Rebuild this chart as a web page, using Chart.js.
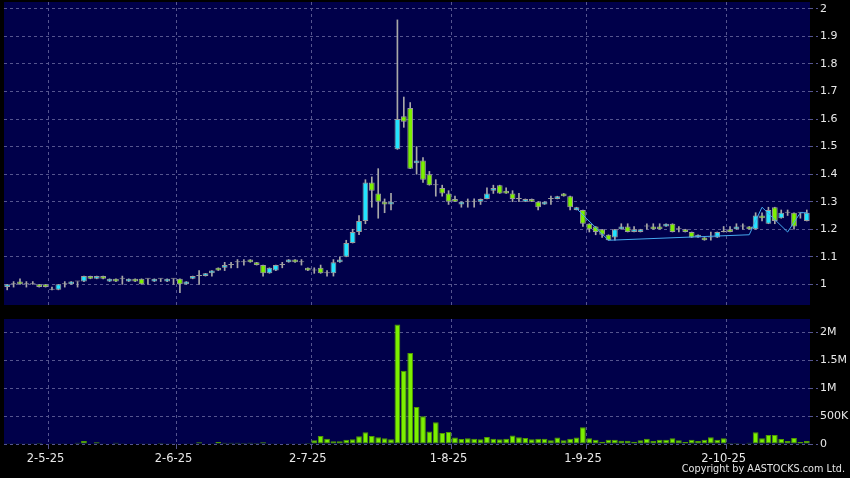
<!DOCTYPE html>
<html><head><meta charset="utf-8">
<script src="https://cdn.jsdelivr.net/npm/chart.js@4.4.1/dist/chart.umd.min.js"></script>
<style>
html,body{margin:0;padding:0;background:#000;width:850px;height:478px;overflow:hidden;}
#c1{position:absolute;left:0;top:0;}
#c2{position:absolute;left:0;top:310px;}
#copy{position:absolute;right:5px;top:463px;color:#e6e6e6;font:9.7px "DejaVu Sans";white-space:nowrap;}
</style></head><body>
<canvas id="c1" width="850" height="305"></canvas>
<canvas id="c2" width="850" height="168"></canvas>
<div id="copy">Copyright by AASTOCKS.com Ltd.</div>
<script>
const dates = [
'23-4-25','24-4-25','25-4-25','28-4-25','29-4-25','30-4-25',
'2-5-25','6-5-25','7-5-25','8-5-25','9-5-25','12-5-25','13-5-25','14-5-25','15-5-25','16-5-25','19-5-25','20-5-25','21-5-25','22-5-25','23-5-25','26-5-25','27-5-25','28-5-25','29-5-25','30-5-25',
'2-6-25','3-6-25','4-6-25','5-6-25','6-6-25','9-6-25','10-6-25','11-6-25','12-6-25','13-6-25','16-6-25','17-6-25','18-6-25','19-6-25','20-6-25','23-6-25','24-6-25','25-6-25','26-6-25','27-6-25','30-6-25',
'2-7-25','3-7-25','4-7-25','7-7-25','8-7-25','9-7-25','10-7-25','11-7-25','14-7-25','15-7-25','16-7-25','17-7-25','18-7-25','21-7-25','22-7-25','23-7-25','24-7-25','25-7-25','28-7-25','29-7-25','30-7-25','31-7-25',
'1-8-25','4-8-25','5-8-25','6-8-25','7-8-25','8-8-25','11-8-25','12-8-25','13-8-25','14-8-25','15-8-25','18-8-25','19-8-25','20-8-25','21-8-25','22-8-25','25-8-25','26-8-25','27-8-25','28-8-25','29-8-25',
'1-9-25','2-9-25','3-9-25','4-9-25','5-9-25','8-9-25','9-9-25','10-9-25','11-9-25','12-9-25','15-9-25','16-9-25','17-9-25','18-9-25','19-9-25','22-9-25','23-9-25','24-9-25','25-9-25','26-9-25','29-9-25','30-9-25',
'2-10-25','3-10-25','6-10-25','8-10-25','9-10-25','10-10-25','13-10-25','14-10-25','15-10-25','16-10-25','17-10-25','20-10-25','21-10-25','22-10-25'
];
const tickDates = ['2-5-25','2-6-25','2-7-25','1-8-25','1-9-25','2-10-25'];

const openP = [
0.99,1.00,1.01,1.00,1.00,1.00,1.00,0.98,0.98,1.00,
1.00,1.01,1.01,1.03,1.02,1.03,1.01,1.02,1.02,1.01,
1.02,1.02,1.02,1.01,1.02,1.01,1.02,1.02,1.00,1.02,
1.03,1.03,1.04,1.06,1.06,1.07,1.08,1.08,1.09,1.08,
1.07,1.04,1.05,1.07,1.08,1.09,1.08,1.06,1.05,1.06,
1.04,1.04,1.08,1.10,1.15,1.19,1.23,1.37,1.33,1.30,
1.29,1.49,1.61,1.64,1.44,1.45,1.40,1.36,1.35,1.33,
1.31,1.29,1.30,1.30,1.30,1.31,1.34,1.36,1.34,1.33,
1.31,1.30,1.31,1.30,1.29,1.31,1.31,1.33,1.32,1.27,
1.27,1.22,1.21,1.20,1.18,1.17,1.20,1.21,1.19,1.19,
1.21,1.21,1.21,1.21,1.22,1.20,1.20,1.19,1.17,1.17,
1.17,1.17,1.19,1.20,1.20,1.21,1.21,1.20,1.25,1.22,
1.28,1.24,1.26,1.26,1.26,1.23];
const highP = [
1.00,1.01,1.02,1.01,1.01,1.00,1.00,0.99,1.00,1.01,
1.01,1.01,1.03,1.03,1.03,1.03,1.02,1.02,1.03,1.02,
1.02,1.02,1.02,1.02,1.02,1.02,1.02,1.02,1.01,1.03,
1.05,1.04,1.05,1.06,1.08,1.08,1.09,1.09,1.09,1.08,
1.07,1.06,1.07,1.08,1.09,1.09,1.09,1.06,1.06,1.07,
1.05,1.09,1.10,1.16,1.20,1.25,1.38,1.39,1.42,1.31,
1.33,1.96,1.68,1.66,1.50,1.46,1.41,1.38,1.36,1.34,
1.32,1.30,1.31,1.31,1.31,1.35,1.36,1.36,1.35,1.34,
1.33,1.31,1.31,1.30,1.30,1.32,1.32,1.33,1.32,1.28,
1.27,1.22,1.21,1.20,1.18,1.20,1.22,1.22,1.21,1.20,
1.22,1.22,1.22,1.22,1.22,1.21,1.20,1.19,1.18,1.17,
1.19,1.19,1.21,1.21,1.22,1.22,1.21,1.26,1.26,1.28,
1.28,1.27,1.27,1.26,1.26,1.27];
const lowP = [
0.98,0.99,1.00,0.99,1.00,0.99,0.99,0.98,0.98,0.99,
1.00,0.99,1.01,1.02,1.02,1.02,1.01,1.01,1.00,1.01,
1.01,1.00,1.00,1.01,1.01,1.01,1.00,0.97,1.00,1.02,
1.00,1.03,1.03,1.05,1.05,1.06,1.06,1.07,1.08,1.07,
1.03,1.04,1.05,1.06,1.08,1.08,1.07,1.05,1.04,1.04,
1.03,1.03,1.08,1.10,1.15,1.18,1.22,1.28,1.24,1.26,
1.27,1.49,1.57,1.42,1.40,1.37,1.36,1.32,1.32,1.29,
1.30,1.28,1.28,1.28,1.29,1.31,1.33,1.33,1.33,1.30,
1.30,1.30,1.30,1.27,1.29,1.29,1.31,1.32,1.27,1.27,
1.21,1.19,1.18,1.17,1.16,1.16,1.20,1.19,1.19,1.19,
1.20,1.20,1.20,1.21,1.19,1.19,1.19,1.17,1.17,1.16,
1.16,1.17,1.19,1.19,1.20,1.20,1.20,1.20,1.23,1.22,
1.22,1.24,1.25,1.20,1.24,1.23];
const closeP = [
1.00,1.00,1.00,1.00,1.00,0.99,0.99,0.98,1.00,1.00,
1.01,1.01,1.03,1.02,1.03,1.02,1.02,1.01,1.02,1.02,
1.01,1.00,1.02,1.02,1.02,1.02,1.02,1.00,1.01,1.03,
1.03,1.04,1.05,1.05,1.07,1.07,1.08,1.08,1.08,1.07,
1.04,1.06,1.07,1.07,1.09,1.08,1.08,1.05,1.05,1.04,
1.04,1.08,1.09,1.15,1.19,1.23,1.37,1.34,1.30,1.29,
1.30,1.60,1.59,1.42,1.45,1.38,1.36,1.36,1.33,1.30,
1.30,1.30,1.30,1.30,1.31,1.33,1.35,1.33,1.33,1.31,
1.31,1.31,1.30,1.28,1.30,1.31,1.32,1.32,1.28,1.28,
1.22,1.20,1.19,1.18,1.16,1.20,1.21,1.19,1.20,1.20,
1.21,1.20,1.20,1.22,1.19,1.20,1.19,1.17,1.18,1.16,
1.17,1.19,1.19,1.19,1.21,1.21,1.20,1.25,1.24,1.27,
1.23,1.26,1.26,1.21,1.26,1.26];
const volumeK = [
5,3,6,3,4,18,8,6,12,4,
8,24,54,8,30,6,8,24,6,8,
10,12,6,8,18,6,4,10,6,12,
30,10,12,36,24,24,24,20,24,20,
30,12,14,10,14,12,14,16,66,144,
96,48,48,78,84,138,210,144,120,102,
84,2136,1308,1626,660,498,222,390,198,216,
114,90,102,96,84,126,96,84,96,150,
120,108,84,96,96,66,114,66,96,114,
300,102,78,42,78,78,60,60,42,66,
96,54,78,78,102,66,36,78,54,78,
120,78,102,18,18,12,24,210,102,162,
162,90,54,108,36,54];
// thin blue line (points by trading-day index)
const lineIdx = [89,94,116,118,122,124,125];
const lineVal = [1.275,1.16,1.18,1.28,1.19,1.26,1.26];

const priceTicks = [1,1.1,1.2,1.3,1.4,1.5,1.6,1.7,1.8,1.9,2];
const priceTickLabels = ['1','1.1','1.2','1.3','1.4','1.5','1.6','1.7','1.8','1.9','2'];
const volTicks = [0,500000,1000000,1500000,2000000];
const volTickLabels = ['0','500K','1M','1.5M','2M'];

const NAVY = '#00004a';
const GRID = '#55558f';
const CYAN = '#22E4FF';
const GREEN = '#7CF000';
const TXT = '#e8e8e8';
const FONT = 'DejaVu Sans';

const panelBg = { id:'panelBg', beforeDraw(chart){
  const {ctx, chartArea:a} = chart; ctx.save(); ctx.fillStyle = NAVY;
  ctx.fillRect(a.left, a.top, a.right-a.left, a.bottom-a.top); ctx.restore(); } };

const vGrid = c => (c.index > 0 && tickDates.includes(dates[c.index-1])) ? GRID : 'rgba(0,0,0,0)';

const lineData = dates.map(() => null);
lineIdx.forEach((k,j) => { lineData[k] = lineVal[j]; });

const bodyColor = c => { const i = c.dataIndex;
  return closeP[i] > openP[i] ? CYAN : (closeP[i] < openP[i] ? GREEN : '#9c9c9c'); };

new Chart(document.getElementById('c1'), {
  type:'bar',
  data:{ labels: dates, datasets:[
    { type:'line', data: lineData, borderColor:'#45A8EE', borderWidth:1, pointRadius:0, spanGaps:true, tension:0 },
    { data: dates.map((d,i)=>[Math.min(openP[i],closeP[i]), Math.max(openP[i],closeP[i])]),
      backgroundColor: bodyColor, borderColor:'#9c9c9c', borderWidth:1, borderSkipped:false,
      grouped:false, barPercentage:0.9, categoryPercentage:1, minBarLength:1 },
    { data: dates.map((d,i)=>[lowP[i], highP[i]]), backgroundColor:'#a8a8a8', barThickness:1, grouped:false }
  ]},
  options:{
    responsive:false, animation:false, devicePixelRatio:1,
    layout:{ padding:{ left:4, top:2, right:0, bottom:0 } },
    plugins:{ legend:{display:false}, tooltip:{enabled:false} },
    scales:{
      x:{ offset:true, grid:{ offset:true, color: vGrid, drawTicks:false, lineWidth:1 },
          border:{ display:false, dash:[3,3] }, ticks:{ display:false, autoSkip:false },
          afterFit: s => { s.height = 0; s.paddingLeft = 0; s.paddingRight = 0; } },
      y:{ position:'right', min:0.925, max:2.025,
          afterBuildTicks: s => { s.ticks = priceTicks.map(v => ({value:v})); },
          afterFit: s => { s.width = 40; s.paddingTop = 0; s.paddingBottom = 0; },
          grid:{ color: GRID, tickLength:8, tickColor: GRID, tickBorderDash:[3,3] },
          border:{ display:false, dash:[3,3] },
          ticks:{ color: TXT, font:{ family: FONT, size:11 }, padding:2,
                  callback:(v,i) => priceTickLabels[i] } }
    }
  },
  plugins:[panelBg]
});

new Chart(document.getElementById('c2'), {
  type:'bar',
  data:{ labels: dates, datasets:[
    { data: volumeK.map(v => v*1000), backgroundColor: GREEN, borderColor:'#4f9a00', borderWidth:1,
      borderSkipped:false, barPercentage:0.9, categoryPercentage:1 }
  ]},
  options:{
    responsive:false, animation:false, devicePixelRatio:1,
    layout:{ padding:{ left:4, top:9, right:0, bottom:0 } },
    plugins:{ legend:{display:false}, tooltip:{enabled:false} },
    scales:{
      x:{ offset:true, grid:{ offset:true, color: vGrid, tickColor: vGrid, tickLength:5 },
          border:{ display:false, dash:[3,3] },
          ticks:{ autoSkip:false, maxRotation:0, minRotation:0, color: TXT, padding:3,
                  font:{ family: FONT, size:11.5 },
                  callback:(v,i) => tickDates.includes(dates[i]) ? dates[i] : '' },
          afterFit: s => { s.height = 34; s.paddingLeft = 0; s.paddingRight = 0; } },
      y:{ position:'right', min:0, max:2235000,
          afterBuildTicks: s => { s.ticks = volTicks.map(v => ({value:v})); },
          afterFit: s => { s.width = 40; s.paddingTop = 0; s.paddingBottom = 0; },
          grid:{ color: GRID, tickLength:8, tickColor: GRID, tickBorderDash:[3,3] },
          border:{ display:false, dash:[3,3] },
          ticks:{ color: TXT, font:{ family: FONT, size:11 }, padding:2,
                  callback:(v,i) => volTickLabels[i] } }
    }
  },
  plugins:[panelBg]
});
</script>
</body></html>
